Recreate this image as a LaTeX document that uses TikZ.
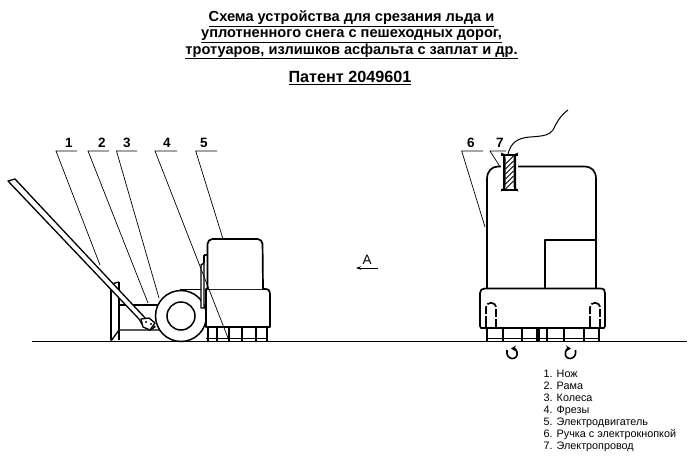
\documentclass[tikz,border=0pt]{standalone}
\usepackage{fontspec}
\setmainfont{Liberation Sans}
\usetikzlibrary{arrows.meta}
\tikzset{
  thick line/.style={line width=1.3pt,black,line join=round},
  heavy line/.style={line width=1.7pt,black,line join=round},
  leader/.style={line width=0.7pt,black},
  numlabel/.style={font=\fontsize{13.5}{14}\selectfont\bfseries,inner sep=0pt},
  legend/.style={font=\fontsize{10.8}{12.1}\selectfont,align=left,anchor=north west,inner sep=0pt},
  titletext/.style={font=\fontsize{14.6}{15.6}\selectfont\bfseries,align=center,inner sep=0pt},
  spin/.style={line width=1.6pt,black,-{Stealth[length=5pt,width=6pt]}},
}
\begin{document}
\begin{tikzpicture}[x=1pt,y=-1pt]
\useasboundingbox (0,0) rectangle (694,463);
% Title
\node[titletext] (title) at (351.5,35) {\underline{Схема устройства для срезания льда и}\\\underline{уплотненного снега с пешеходных дорог,}\\\underline{тротуаров, излишков асфальта с заплат и др.}};
\node[titletext,font=\fontsize{16.2}{18}\selectfont\bfseries] (patent) at (350,78) {\underline{Патент 2049601}};
% Ground
\draw[thick line] (32,341.5) -- (687,341.5);
% ---- Left view
\draw[thick line] (111,340) -- (111,282) (119,340) -- (119,282);
\draw[thick line] (108,285) -- (119,282);
\draw[thick line] (111,341) -- (119,330) -- (160,330);
\draw[thick line] (119,305) -- (158,305);
% handle
\draw[thick line,fill=white] (8,181) -- (15,179) -- (148,321) -- (155,327) -- (150,330) -- (143,326) -- (139,319) -- cycle;
\draw[thick line,fill=white] (141,319) -- (149,318) -- (155,323) -- (150,330) -- (143,327) -- cycle;
\fill (146,322) circle (1.2) (151,324) circle (1.2);
% wheel
\node[circle,draw,line width=1.5pt,fill=white,minimum size=51pt,inner sep=0pt] (wheelout) at (181,316) {};
\node[circle,draw,line width=1.5pt,minimum size=28pt,inner sep=0pt] (wheelin) at (181,316) {};
\draw[thick line] (180,289.5) -- (203,289.5);
% cutters
\foreach \x in {208,216.7,229,241.7,256,266.7}
  \draw[line width=2.2pt] (\x,327) -- (\x,342);
\draw[line width=0.9pt] (206,338) -- (268,338);
% housing
\draw[heavy line,fill=white] (206,289) -- (265,289) .. controls (269,289) and (270,291) .. (270,295) -- (270,327) -- (206,327) -- cycle;
\draw[heavy line,fill=white,rounded corners=5pt] (207.5,289) -- (207.5,239) -- (262.5,239) -- (263,289);
\draw[thick line,fill=white] (201,265) -- (204,263) -- (204,308) -- (201,308) -- cycle;
\draw[thick line] (204,255) -- (207,255) (204,255) -- (204,263);
% leaders left
\coordinate (l1) at (100,265);
\coordinate (l2) at (148,303);
\coordinate (l3) at (159,298);
\coordinate (l4) at (228,338);
\coordinate (l5) at (222.7,238);
\node[numlabel] (n1) at (69,143) {1};
\node[numlabel] (n2) at (102,143) {2};
\node[numlabel] (n3) at (127,143) {3};
\node[numlabel] (n4) at (167,143) {4};
\node[numlabel] (n5) at (204,143) {5};
\draw[leader] (77,151) -- (56,151) -- (l1);
\draw[leader] (109,151) -- (88,151) -- (l2);
\draw[leader] (137,151) -- (116.5,151) -- (l3);
\draw[leader] (177,151) -- (155,151) -- (l4);
\draw[leader] (217,151) -- (195.7,151) -- (l5);
% A arrow
\node[numlabel,font=\fontsize{13.5}{14}\selectfont] (A) at (367,260) {А};
\coordinate (ae) at (356,268);
\coordinate (as) at (378,268);
\draw[leader,-{Stealth[length=5pt,width=3.5pt]}] (as) -- (ae);
% ---- Right view
\draw[heavy line] (487,288) -- (487,179) .. controls (487,171) and (492,166.5) .. (498,166.5) -- (584,166.5) .. controls (592,166.5) and (596,171) .. (596,179) -- (596,288);
\draw[heavy line] (545,288) -- (545,240) -- (596,240);
% cutters
\foreach \x in {486.7,502.7,522,547,564,584,599}
  \draw[line width=2.2pt] (\x,327) -- (\x,342);
\draw[line width=4pt] (538,327) -- (538,342);
\draw[line width=0.9pt] (486,338.5) -- (600,338.5);
% base
\draw[heavy line,fill=white] (481,328) -- (480,326) -- (480,293) .. controls (480,290) and (482,288.5) .. (485,288.5) -- (600,288.5) .. controls (604,288.5) and (605,290) .. (605,293) -- (605,326) -- (604,328) -- cycle;
\draw[heavy line,dash pattern=on 11pt off 2pt on 8pt off 2pt] (486,327) -- (486,308) .. controls (486,301) and (496,301) .. (496,308) -- (496,327);
\draw[heavy line,dash pattern=on 11pt off 2pt on 8pt off 2pt] (590,327) -- (590,308) .. controls (590,301) and (600,301) .. (600,308) -- (600,327);
% cable coil
\fill[white] (501,155) rectangle (518,190);
\draw[thick line] (501,155) -- (518,155) (501,190) -- (518,190);
\fill (500.5,152.5) -- (503,156) -- (503,188) -- (500.5,191.5) -- (504.5,190) -- (505.5,186) -- (505.5,158) -- (504.5,154) -- cycle;
\fill (518.5,152.5) -- (516,156) -- (516,188) -- (518.5,191.5) -- (514.5,190) -- (513.5,186) -- (513.5,158) -- (514.5,154) -- cycle;
\foreach \y in {160,165,170,175,180,185}
  \draw[line width=1pt] (505.5,\y+4) -- (513.5,\y-4);
\draw[line width=1pt] (508,154) .. controls (511,142) and (518,138) .. (530,137) .. controls (545,136) and (549,135) .. (553,130) .. controls (557,122) and (560,116) .. (568,110);
% leaders right
\coordinate (l6) at (485,227);
\coordinate (l7) at (500,166.7);
\node[numlabel] (n6) at (471,143) {6};
\node[numlabel] (n7) at (500,143) {7};
\draw[leader] (483,151) -- (461.7,151) -- (l6);
\draw[leader] (506,151) -- (490,151) -- (l7);
% rotation arrows
\draw[spin] (507,350) .. controls (505,361) and (519,361) .. (517,352) .. controls (516.5,349.5) and (515,348.5) .. (511,348.5);
\draw[spin] (575.5,350) .. controls (577.5,361) and (563.5,361) .. (565.5,352) .. controls (566,349.5) and (567.5,348.5) .. (571,348.5);
% legend
\node[legend] (leg) at (543.5,369.5) {1. Нож\\2. Рама\\3. Колеса\\4. Фрезы\\5. Электродвигатель\\6. Ручка с электрокнопкой\\7. Электропровод};
\end{tikzpicture}
\end{document}
